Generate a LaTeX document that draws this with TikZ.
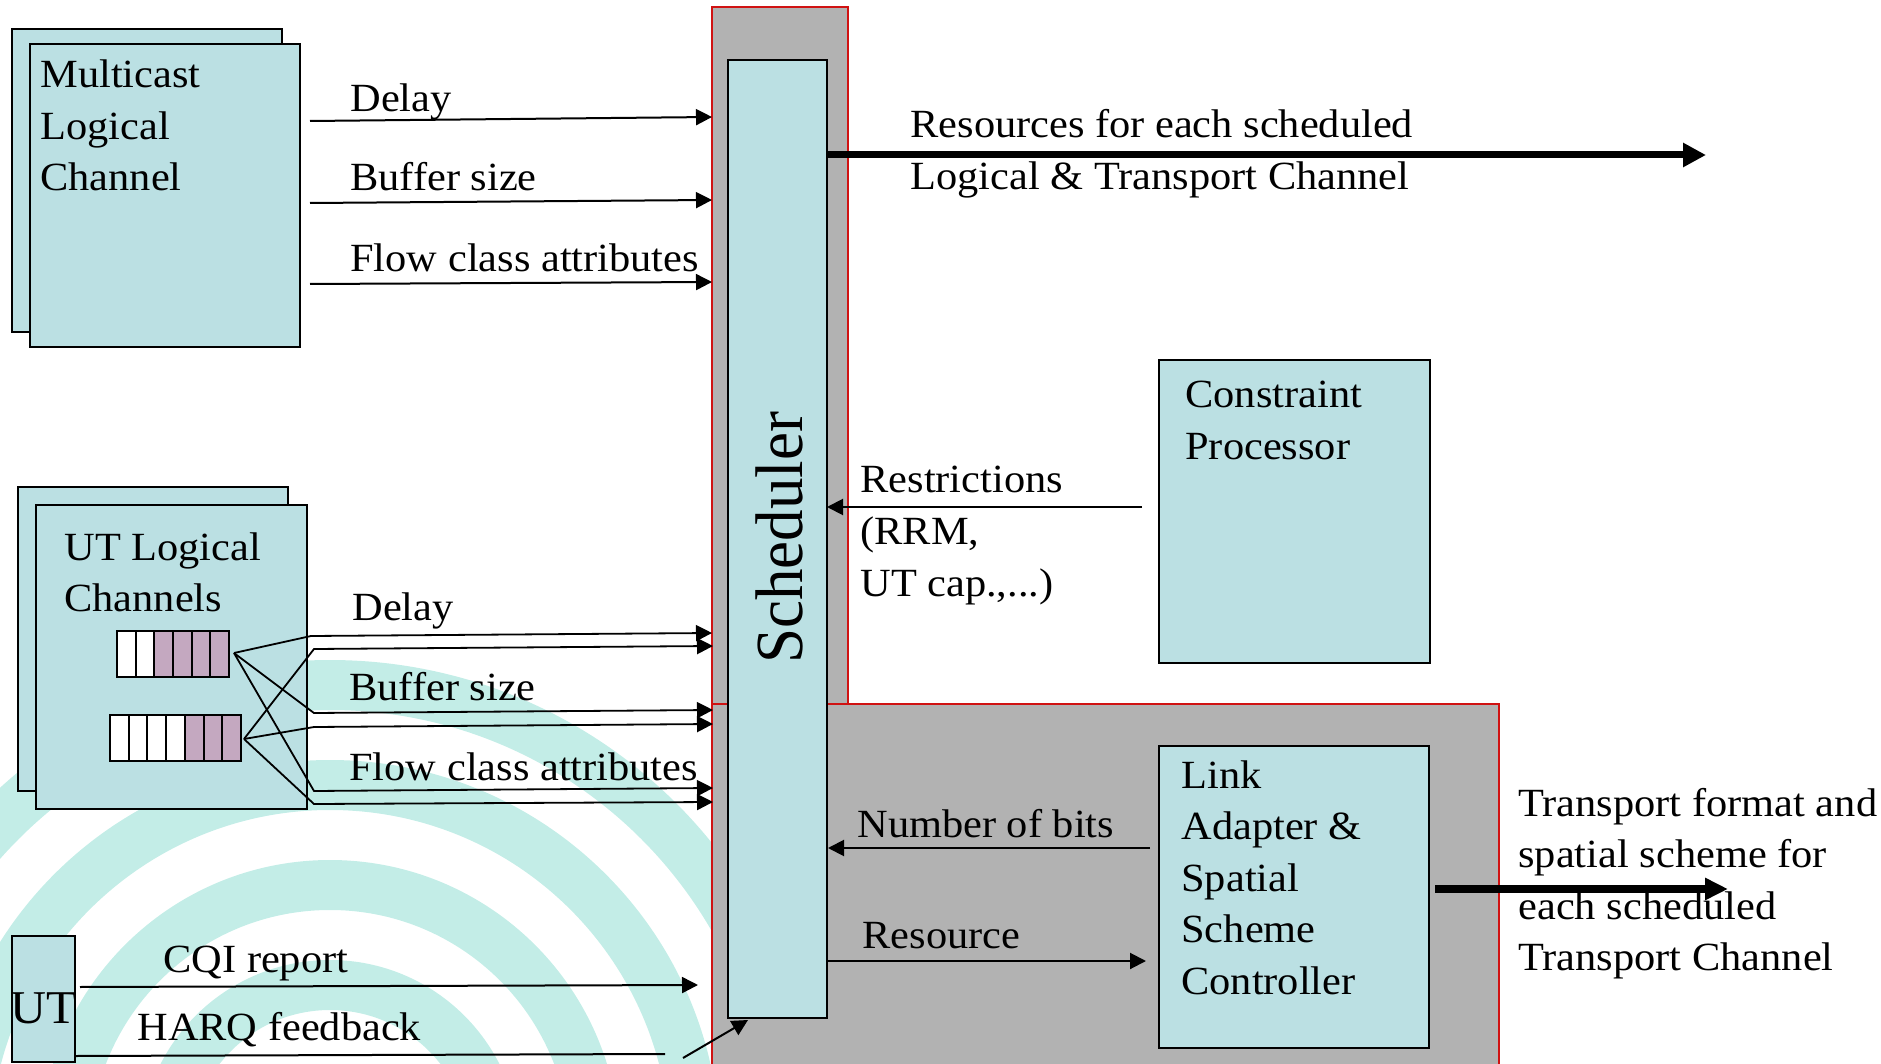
\documentclass[tikz,border=0pt]{standalone}
\usepackage{fontspec}
\usepackage{graphicx}
\setmainfont{Liberation Serif}[FakeStretch=1.06]
\newfontfamily\schedfont{Liberation Serif}
\usetikzlibrary{arrows.meta,fit}
\definecolor{boxcyan}{RGB}{187,224,227}
\definecolor{zonegray}{RGB}{178,178,178}
\definecolor{zonered}{RGB}{208,18,18}
\definecolor{cellpurple}{RGB}{196,168,192}
\definecolor{wmteal}{RGB}{195,237,231}
\newcommand{\mlines}[1]{\vtop{\baselineskip=25.75pt\lineskiplimit=-100pt\def\\{\egroup\hbox\bgroup}\hbox\bgroup#1\egroup}}
\begin{document}
\begin{tikzpicture}[x=0.5pt,y=-0.5pt,
  box/.style={draw=black,line width=1pt,fill=boxcyan,inner sep=0pt},
  zone/.style={fill=zonegray,draw=zonered,line width=1pt,inner sep=0pt},
  lbl/.style={anchor=base west,inner sep=0pt,font=\fontsize{20}{25.75}\selectfont},
  arr/.style={line width=1pt,-{Triangle[length=8pt,width=8pt]}},
  thin/.style={line width=1pt},
  xarr/.style={line width=0.9pt,-{Triangle[length=8pt,width=8pt]}},
  bigarr/.style={line width=3.5pt,-{Triangle[length=11.5pt,width=11.5pt]}},
  cellw/.style={draw=black,line width=1pt,fill=white},
  cellp/.style={draw=black,line width=1pt,fill=cellpurple},
  wm/.style={wmteal,line width=25pt}]
\useasboundingbox (0,0) rectangle (1881,1064);
% watermark
\begin{scope}
\clip (0,540) rectangle (712,1064);
\draw[wm] (330,1150) circle[radius=165];
\draw[wm] (330,1150) circle[radius=265];
\draw[wm] (330,1150) circle[radius=365];
\draw[wm] (330,1150) circle[radius=465];
\draw[wm] ([shift={(120:530)}]330,1150) arc[start angle=120,end angle=200,radius=530];
\end{scope}
% gray zones
\node[fill=zonegray,inner sep=0pt,fit={(712,704) (1499,1070)}] (lowzone) {};
\draw[zonered,line width=1pt] (lowzone.south west) -- (lowzone.north west) -- (lowzone.north east) -- (lowzone.south east);
\node[zone,fit={(712,7) (848,704)}] (schedzone) {};
% scheduler
\node[box,fit={(728,60) (827,1018)}] (sched) {};
\node[rotate=90,anchor=base,inner sep=0pt,font=\schedfont\fontsize{31.5}{36}\selectfont] (schedlbl) at (802,538) {\scalebox{1}[1.07]{Scheduler}};
% multicast
\node[box,fit={(12,29) (282,332)}] (mcback) {};
\node[box,fit={(30,44) (300,347)}] (mc) {};
\node[lbl] (mctxt) at (40,88) {\mlines{Multicast\\Logical\\Channel}};
\coordinate (mcd0) at (310,121); \coordinate (mcd1) at (712,117);
\coordinate (mcb0) at (310,203); \coordinate (mcb1) at (712,200);
\coordinate (mcf0) at (310,284); \coordinate (mcf1) at (712,282);
\draw[arr] (mcd0) -- (mcd1);
\draw[arr] (mcb0) -- (mcb1);
\draw[arr] (mcf0) -- (mcf1);
\node[lbl] (mcdl) at (350,112) {Delay};
\node[lbl] (mcbl) at (350,191) {Buffer size};
\node[lbl] (mcfl) at (350,272) {Flow class attributes};
% UT logical channels
\node[box,fit={(18,487) (288,791)}] (utback) {};
\node[box,fit={(36,505) (307,809)}] (ut) {};
\node[lbl] (uttxt) at (64,560) {\mlines{UT Logical\\Channels}};
\foreach \i in {0,1} \draw[cellw] ({117+18.67*\i},631) rectangle ++(18.67,46);
\foreach \i in {2,...,5} \draw[cellp] ({117+18.67*\i},631) rectangle ++(18.67,46);
\foreach \i in {0,...,3} \draw[cellw] ({110+18.71*\i},715) rectangle ++(18.71,46);
\foreach \i in {4,...,6} \draw[cellp] ({110+18.71*\i},715) rectangle ++(18.71,46);
\node[inner sep=0pt,fit={(117,631) (229,677)}] (q1) {};
\node[inner sep=0pt,fit={(110,715) (241,761)}] (q2) {};
\coordinate (q1o) at (234,653);
\coordinate (q2o) at (244,739);
\coordinate (d1) at (712,633); \coordinate (d2) at (713,646);
\coordinate (b1) at (713,710); \coordinate (b2) at (713,724);
\coordinate (f1) at (713,788); \coordinate (f2) at (713,802);
\draw[xarr] (q1o) -- (311,636) -- (d1);
\draw[xarr] (q2o) -- (314,649) -- (d2);
\draw[xarr] (q1o) -- (314,713) -- (b1);
\draw[xarr] (q2o) -- (314,727) -- (b2);
\draw[xarr] (q1o) -- (314,791) -- (f1);
\draw[xarr] (q2o) -- (314,804) -- (f2);
\node[lbl] (utdl) at (352,620) {Delay};
\node[lbl] (utbl) at (349,700) {Buffer size};
\node[lbl] (utfl) at (349,780) {Flow class attributes};
% UT
\node[box,fit={(12,936) (75,1062)}] (utbox) {};
\node[anchor=base,inner sep=0pt,font=\fontsize{23.5}{26}\selectfont] (utlbl) at (44,1023) {UT};
\coordinate (cqi0) at (80,987); \coordinate (cqi1) at (698,985);
\draw[arr] (cqi0) -- (cqi1);
\node[lbl] (cqil) at (163,972) {CQI report};
\coordinate (harq0) at (76,1056); \coordinate (harq1) at (665,1054);
\draw[thin] (harq0) -- (harq1);
\node[lbl] (harql) at (137,1040) {HARQ feedback};
\coordinate (harq2) at (683,1058); \coordinate (harq3) at (748,1020);
\draw[arr] (harq2) -- (harq3);
% resources output
\coordinate (res0) at (827,155); \coordinate (res1) at (1706,155);
\draw[bigarr] (res0) -- (res1);
\node[lbl] (resl) at (910,138) {\mlines{Resources for each scheduled\\Logical \& Transport Channel}};
% constraint processor
\node[box,fit={(1159,360) (1430,663)}] (cp) {};
\node[lbl] (cptxt) at (1185,408) {\mlines{Constraint\\Processor}};
\coordinate (rst0) at (1142,507); \coordinate (rst1) at (827,507);
\draw[arr] (rst0) -- (rst1);
\node[lbl] (rstl) at (860,493) {\mlines{Restrictions\\(RRM,\\UT cap.,...)}};
% link adapter
\node[box,fit={(1159,746) (1429,1048)}] (la) {};
\node[lbl] (latxt) at (1181,788) {\mlines{Link\\Adapter \&\\Spatial\\Scheme\\Controller}};
\coordinate (nb0) at (1150,848); \coordinate (nb1) at (828,848);
\draw[arr] (nb0) -- (nb1);
\node[lbl] (nbl) at (857,837) {Number of bits};
\coordinate (rs0) at (827,961); \coordinate (rs1) at (1146,961);
\draw[arr] (rs0) -- (rs1);
\node[lbl] (rsl) at (862,948) {Resource};
% transport output
\coordinate (tf0) at (1435,889); \coordinate (tf1) at (1728,889);
\draw[line width=4pt,-{Triangle[length=11.5pt,width=10.5pt]}] (tf0) -- (tf1);
\node[lbl] (tfl) at (1518,816) {\mlines{Transport format and\\spatial scheme for\\each scheduled\\Transport Channel}};
\end{tikzpicture}
\end{document}
